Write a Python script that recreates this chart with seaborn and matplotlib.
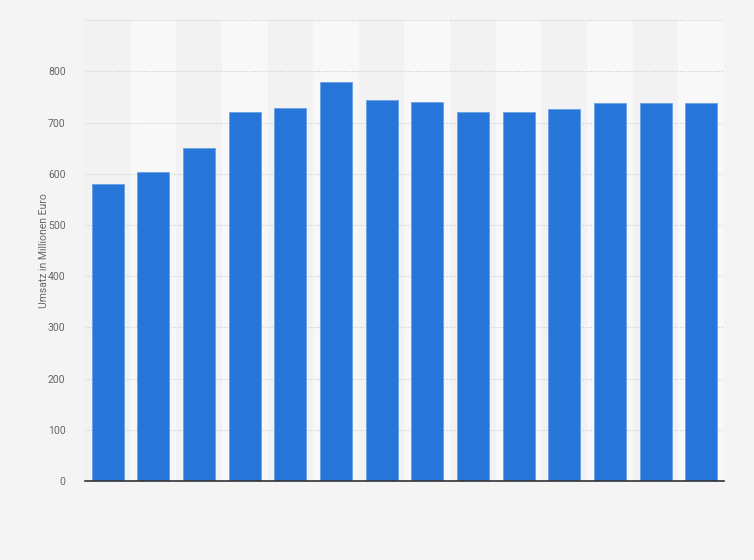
import matplotlib.pyplot as plt
import seaborn as sns
import pandas as pd

# values (no year labels shown)
bar_ids = [str(i) for i in range(1, 15)]
umsatz = [580, 603, 650, 720, 728, 780, 745, 741, 720, 720, 726, 738, 738, 738]
y_ticks = [0, 100, 200, 300, 400, 500, 600, 700, 800]

df = pd.DataFrame({'id': bar_ids, 'umsatz': umsatz})

sns.set_style('white')
plt.rcParams['font.family'] = ['Roboto', 'DejaVu Sans']

fig = plt.figure(figsize=(7.54, 5.60), dpi=100, facecolor='#f4f4f4')
ax = fig.add_axes([0.1127, 0.141, 0.8475, 0.823])
ax.set_facecolor('#f2f2f2')

# alternating column stripes
for i in range(len(bar_ids)):
    if i % 2 == 1:
        ax.axvspan(i - 0.5, i + 0.5, color='#f8f8f8', zorder=0, lw=0)

sns.barplot(data=df, x='id', y='umsatz', color='#2775d8', width=0.7,
            saturation=1, edgecolor='#6a9fe6', linewidth=0.6, ax=ax, zorder=3)

ax.set_xlim(-0.5, len(bar_ids) - 0.5)
ax.set_ylim(0, 900)
ax.set_yticks(y_ticks + [900])
ax.set_yticklabels([str(t) for t in y_ticks] + [''])
ax.yaxis.grid(True, color='#cccccc', linestyle=(0, (1, 1.5)), linewidth=0.8)
ax.set_axisbelow(True)
ax.set_xticks([])
ax.set_xlabel('')
ax.set_ylabel('Umsatz in Millionen Euro', fontsize=7.5, color='#666666', labelpad=-1)
ax.tick_params(axis='y', length=0, labelsize=7.5, labelcolor='#666666', pad=14)

for s in ['top', 'right', 'left']:
    ax.spines[s].set_visible(False)
ax.spines['bottom'].set_color('#333333')
ax.spines['bottom'].set_linewidth(1.2)
ax.spines['bottom'].set_zorder(5)

fig.savefig('out.png', dpi=100, facecolor=fig.get_facecolor())
